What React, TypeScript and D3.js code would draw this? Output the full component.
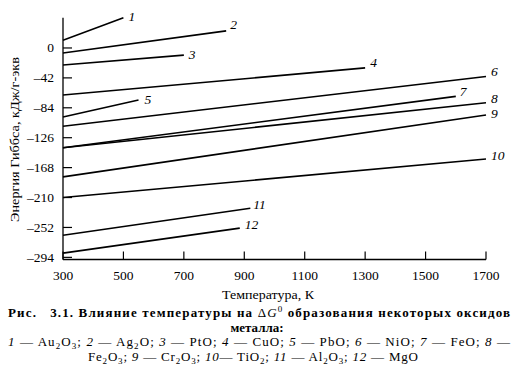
import React from "react";
import * as d3 from "d3";

// ---- data ----
const SERIES_LABELS = ["1", "2", "3", "4", "5", "6", "7", "8", "9", "10", "11", "12"];
const OXIDES = ["Au2O3", "Ag2O", "PtO", "CuO", "PbO", "NiO", "FeO", "Fe2O3", "Cr2O3", "TiO2", "Al2O3", "MgO"];
const T_START = [300, 300, 300, 300, 300, 300, 300, 300, 300, 300, 300, 300];
const T_END = [500, 840, 700, 1300, 550, 1700, 1600, 1700, 1700, 1700, 920, 885];
const G_START = [11, -7, -24, -66, -97, -110, -140, -140, -181, -210, -263, -288];
const G_END = [42.5, 24, -10, -28, -73, -40, -68, -77, -94, -156, -225, -253];
const X_TICKS = [300, 500, 700, 900, 1100, 1300, 1500, 1700];
const Y_TICKS = [0, -42, -84, -126, -168, -210, -252, -294];
const X_TITLE = "Температура, К";
const Y_TITLE = "Энергия Гиббса, кДж/г-экв";

// label offsets from line end (style only)
const LABEL_OFFSETS: [number, number][] = [
  [5, 3], [4, -2], [5, 4], [5, -1], [6, 4], [5, 0], [4, 0], [5, 0], [5, 3], [5, 1], [3, 1], [5, 1],
];

const W = 516;
const H = 382;
const FONT = "'Liberation Serif', 'Times New Roman', serif";

function formula(f: string, key: string) {
  const parts = f.match(/[A-Za-z]+|\d+/g) || [];
  return parts.map((p, i) =>
    /\d/.test(p) ? (
      <tspan key={key + i} fontSize={9} baselineShift="-2.5">{p}</tspan>
    ) : (
      <tspan key={key + i}>{p}</tspan>
    )
  );
}

function item(idx: number, last: boolean, spaced = true) {
  return (
    <React.Fragment key={"it" + idx}>
      <tspan fontStyle="italic">{SERIES_LABELS[idx]}</tspan>
      <tspan>{spaced ? " — " : "— "}</tspan>
      {formula(OXIDES[idx], "f" + idx)}
      <tspan>{last ? "" : "; "}</tspan>
    </React.Fragment>
  );
}

export default function App() {
  const x = d3.scaleLinear().domain([300, 1700]).range([63, 486]);
  const y = d3.scaleLinear().domain([-297, 42.5]).range([259.5, 17.7]);
  const line = d3.line<[number, number]>().x((d) => x(d[0])).y((d) => y(d[1]));

  return (
    <svg
      width={W}
      height={H}
      style={{ position: "absolute", left: 0, top: 0, background: "#fff" }}
      fontFamily={FONT}
    >
      <rect width={W} height={H} fill="#fff" />
      {/* axes */}
      <line x1={x(300)} x2={x(300)} y1={y(-297)} y2={y(42.5)} stroke="#000" strokeWidth={1.3} />
      <line x1={x(300)} x2={x(1700)} y1={y(-297)} y2={y(-297)} stroke="#000" strokeWidth={1.3} />
      {Y_TICKS.map((t) => (
        <g key={"yt" + t}>
          <line x1={x(300)} x2={x(300) + 9} y1={y(t)} y2={y(t)} stroke="#000" strokeWidth={1.2} />
          <text x={54} y={y(t) + 4.5} textAnchor="end" fontSize={13.5}>
            {t < 0 ? "–" + Math.abs(t) : String(t)}
          </text>
        </g>
      ))}
      {X_TICKS.map((t) => (
        <g key={"xt" + t}>
          <line x1={x(t)} x2={x(t)} y1={y(-297)} y2={y(-297) - 8} stroke="#000" strokeWidth={1.2} />
          <text x={x(t)} y={280} textAnchor="middle" fontSize={13.5}>{t}</text>
        </g>
      ))}
      <text x={222} y={299} fontSize={13} textLength={92} lengthAdjust="spacingAndGlyphs">{X_TITLE}</text>
      <text
        transform={`translate(19,140) rotate(-90)`}
        x={-82}
        fontSize={13.5}
        textLength={165}
        lengthAdjust="spacingAndGlyphs"
      >
        {Y_TITLE}
      </text>

      {/* series */}
      {SERIES_LABELS.map((s, i) => {
        const pts: [number, number][] = [
          [T_START[i], G_START[i]],
          [T_END[i], G_END[i]],
        ];
        const [dx, dy] = LABEL_OFFSETS[i];
        return (
          <g key={"s" + s}>
            <path d={line(pts) || ""} fill="none" stroke="#000" strokeWidth={1.6} />
            <text
              x={x(T_END[i]) + dx}
              y={y(G_END[i]) + dy}
              fontSize={13.5}
              fontStyle="italic"
            >
              {s}
            </text>
          </g>
        );
      })}

      {/* caption */}
      <text
        x={8}
        y={317}
        fontSize={13}
        fontWeight="bold"
        textLength={502}
        lengthAdjust="spacing"
        style={{ whiteSpace: "pre" }}
      >
        <tspan>{"Рис.   3.1. Влияние температуры на "}</tspan>
        <tspan fontWeight="normal">Δ</tspan>
        <tspan fontWeight="normal" fontStyle="italic">G</tspan>
        <tspan fontWeight="normal" fontSize={9} baselineShift="5">0</tspan>
        <tspan>{" образования некоторых оксидов"}</tspan>
      </text>
      <text x={257} y={331.5} fontSize={13} fontWeight="bold" textAnchor="middle">
        металла:
      </text>
      <text x={8} y={346} fontSize={13} textLength={502} lengthAdjust="spacing" style={{ whiteSpace: "pre" }}>
        {[0, 1, 2, 3, 4, 5, 6].map((i) => item(i, false))}
        <tspan fontStyle="italic">{SERIES_LABELS[7]}</tspan>
        <tspan>{" —"}</tspan>
      </text>
      <text x={88} y={361} fontSize={13} textLength={330} lengthAdjust="spacing" style={{ whiteSpace: "pre" }}>
        {formula(OXIDES[7], "fe")}
        <tspan>{"; "}</tspan>
        {item(8, false)}
        {item(9, false, false)}
        {item(10, false)}
        {item(11, true)}
      </text>
    </svg>
  );
}
